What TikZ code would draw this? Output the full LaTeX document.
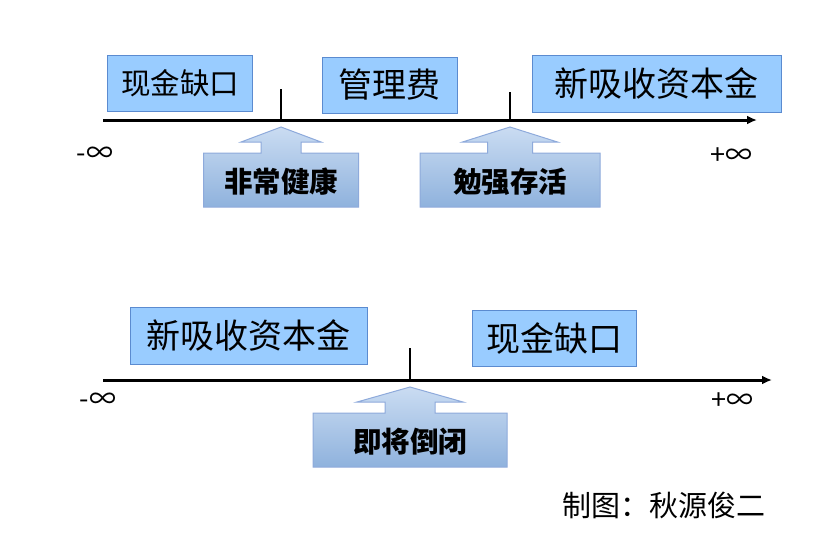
\documentclass[tikz,border=0pt]{standalone}
\usepackage{fontspec}
\setmainfont{Noto Sans CJK SC}
\usetikzlibrary{arrows.meta}
\definecolor{boxFill}{HTML}{99CCFF}
\definecolor{boxLine}{HTML}{5B8BD0}
\definecolor{callTop}{HTML}{CADCF2}
\definecolor{callBottom}{HTML}{8FB2DD}
\definecolor{callLine}{HTML}{8EAADB}
\begin{document}
\begin{tikzpicture}
[x=1pt,y=-1pt,
  axisDecorate/.style={line width=3pt,-{Latex[length=10pt,width=9pt]}},%
  tickDecorate/.style={line width=2.5pt},%
  boxDecorate/.style={shape=rectangle,fill=boxFill,draw=boxLine,line width=1pt,
    inner sep=0pt,font=\fontsize{34}{38}\selectfont},%
  calloutShade/.style={top color=callTop,bottom color=callBottom,draw=callLine,line width=1pt},%
  calloutText/.style={font=\fontsize{28.5}{32}\selectfont\bfseries},%
  endDecorate/.style={font=\fontsize{27}{30}\selectfont}]
\useasboundingbox (0,0) rectangle (816,552);
%% number lines
\coordinate (topStart) at (103,120);
\coordinate (topEnd) at (757,120);
\coordinate (lowStart) at (103,380);
\coordinate (lowEnd) at (772,380);
\draw[axisDecorate] (topStart) -- (topEnd);
\draw[axisDecorate] (lowStart) -- (lowEnd);
%% ticks
\foreach \tickname/\x/\y/\len in {tickA/281/120/31, tickB/510/120/28, tickC/410/380/32}
{
  \coordinate (\tickname) at (\x,\y);
  \draw[tickDecorate] (\tickname) -- ++(0,-\len);
}
%% boxes above the lines
\node[boxDecorate,minimum width=145,minimum height=56,font=\fontsize{29.5}{33}\selectfont]
  (cashTop) at (180,83) {现金缺口};
\node[boxDecorate,minimum width=135,minimum height=56] (feeTop) at (389.5,85) {管理费};
\node[boxDecorate,minimum width=249,minimum height=57] (capitalTop) at (656.5,83.5) {新吸收资本金};
\node[boxDecorate,minimum width=237,minimum height=57] (capitalLow) at (248.5,335.5) {新吸收资本金};
\node[boxDecorate,minimum width=164,minimum height=56] (cashLow) at (554,338) {现金缺口};
%% callouts below the lines
\foreach \nodename/\x/\y/\body/\stem/\head/\words in {
  healthy/281/120/77.5/20/40/非常健康, survive/510/120/90/22.5/47.5/勉强存活,
  closing/410/380/97/25/53/即将倒闭}
{
  \path[calloutShade] (\x,\y+7) -- (\x+\head,\y+22) -- (\x+\stem,\y+22)
    -- (\x+\stem,\y+33) -- (\x+\body,\y+33) -- (\x+\body,\y+87)
    -- (\x-\body,\y+87) -- (\x-\body,\y+33) -- (\x-\stem,\y+33)
    -- (\x-\stem,\y+22) -- (\x-\head,\y+22) -- cycle;
  \node[calloutText] (\nodename) at (\x,\y+62) {\words};
}
%% ends of the lines
\node[endDecorate] (minusTop) at (95,155) {-∞};
\node[endDecorate] (plusTop) at (731,156) {+∞};
\node[endDecorate] (minusLow) at (98,401) {-∞};
\node[endDecorate] (plusLow) at (732,401) {+∞};
\node[font=\fontsize{29}{32}\selectfont] (credit) at (664,505) {制图：秋源俊二};
\end{tikzpicture}
\end{document}
